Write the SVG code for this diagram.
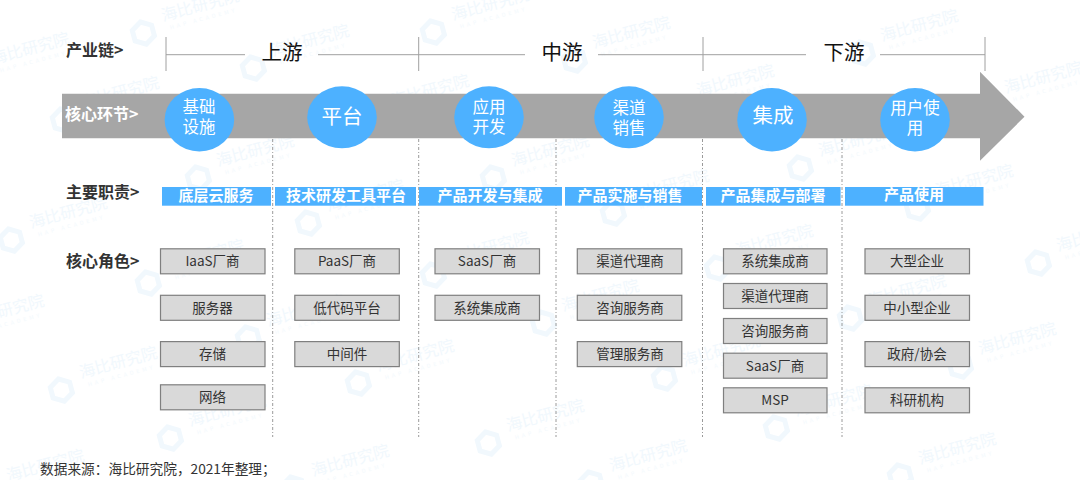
<svg xmlns="http://www.w3.org/2000/svg" width="1080" height="480" viewBox="0 0 1080 480">
<style>
text{font-family:"Noto Sans CJK SC","Noto Sans",sans-serif;text-anchor:middle;dominant-baseline:central;transform:translateY(-1px)}
.lbl{font-size:16px;font-weight:700;fill:#333;text-anchor:start}
.up{font-size:20.5px;fill:#111}
.circ{fill:#4db1ff}
.ct{font-size:16.5px;fill:#fff}
.cb{font-size:20.5px;fill:#fff}
.bar{fill:#4db1ff}
.bt{font-size:15px;font-weight:700;fill:#fff}
.box{fill:#d9d9d9;stroke:#7f7f7f;stroke-width:1.2}
.bx{font-size:13.5px;fill:#333}
.hl{stroke:#a0a0a0;stroke-width:1;fill:none}
.dash{stroke:#808080;stroke-width:.8;stroke-dasharray:3 2 1 2;fill:none}
.wt{font-size:16px;fill:#f1f8fd}
.ws{font-size:5.5px;letter-spacing:3px;fill:#f3f9fd}
.wi{fill:none;stroke:#f1f8fd;stroke-width:5}
</style>
<defs>
<g id="wm" transform="rotate(-15)">
<text class="wt" x="0" y="0" textLength="80">海比研究院</text>
<text class="ws" x="0" y="15">HAP ACADEMY</text>
<path class="wi" d="M-62 1l10 6v11l-10 6-10-6V7z"/>
</g>
</defs>
<rect width="1080" height="480" fill="#fff"/>
<g id="watermarks">
<use href="#wm" x="30" y="48"/><use href="#wm" x="200" y="5"/><use href="#wm" x="490" y="4"/><use href="#wm" x="310" y="40"/><use href="#wm" x="120" y="92"/><use href="#wm" x="430" y="90"/><use href="#wm" x="255" y="150"/><use href="#wm" x="550" y="150"/><use href="#wm" x="68" y="212"/><use href="#wm" x="365" y="195"/><use href="#wm" x="631" y="32"/><use href="#wm" x="919" y="25"/><use href="#wm" x="735" y="80"/><use href="#wm" x="1043" y="77"/><use href="#wm" x="857" y="140"/><use href="#wm" x="974" y="180"/><use href="#wm" x="670" y="185"/><use href="#wm" x="205" y="255"/><use href="#wm" x="5" y="310"/><use href="#wm" x="118" y="362"/><use href="#wm" x="227" y="410"/><use href="#wm" x="305" y="310"/><use href="#wm" x="415" y="355"/><use href="#wm" x="350" y="460"/><use href="#wm" x="45" y="465"/><use href="#wm" x="545" y="415"/><use href="#wm" x="490" y="247"/><use href="#wm" x="648" y="455"/><use href="#wm" x="957" y="448"/><use href="#wm" x="1017" y="338"/><use href="#wm" x="907" y="290"/><use href="#wm" x="600" y="295"/><use href="#wm" x="721" y="350"/><use href="#wm" x="833" y="400"/><use href="#wm" x="774" y="240"/><use href="#wm" x="1095" y="235"/>
</g>
<g id="connectors">
<path class="hl" d="M166 37V71M418.7 37V71M703 37V71M985 37V71M166 54.7H245M318 54.7H525M598 54.7H806M880 54.7H985"/>
<path class="dash" d="M272.7 139V437M418.7 139V437M556 139V437M702.5 139V437M842 139V437"/>
</g>
<g id="arrow"><path d="M62 93.7H980V71.7L1024.5 116.7L980 160.7V138.3H62z" fill="#a6a6a6"/></g>
<g id="row-labels">
<text class="lbl" x="66" y="50">产业链&gt;</text>
<text class="lbl" x="65" y="114" style="fill:#fff">核心环节&gt;</text>
<text class="lbl" x="66" y="192">主要职责&gt;</text>
<text class="lbl" x="66" y="261">核心角色&gt;</text>
</g>
<g id="stage-upstream"><text class="up" x="282" y="52">上游</text></g>
<g id="stage-midstream"><text class="up" x="562" y="52">中游</text></g>
<g id="stage-downstream"><text class="up" x="844" y="52">下游</text></g>
<g id="c1"><ellipse class="circ" cx="199.4" cy="119.7" rx="34.8" ry="31.7"/><text class="ct"><tspan x="199" y="107">基础</tspan><tspan x="199" y="127">设施</tspan></text></g>
<g id="c2"><ellipse class="circ" cx="342" cy="117.3" rx="34.8" ry="31"/><text class="cb" x="342" y="116">平台</text></g>
<g id="c3"><ellipse class="circ" cx="489" cy="117.3" rx="34.8" ry="31"/><text class="ct"><tspan x="489" y="107">应用</tspan><tspan x="489" y="127">开发</tspan></text></g>
<g id="c4"><ellipse class="circ" cx="629" cy="117.3" rx="34.8" ry="31"/><text class="ct"><tspan x="629" y="108">渠道</tspan><tspan x="629" y="128">销售</tspan></text></g>
<g id="c5"><ellipse class="circ" cx="772" cy="119.7" rx="34.8" ry="31.7"/><text class="cb" x="773" y="115">集成</text></g>
<g id="c6"><ellipse class="circ" cx="915" cy="119.7" rx="34.8" ry="31.7"/><text class="ct"><tspan x="915" y="108">用户使</tspan><tspan x="915" y="128">用</tspan></text></g>
<g id="b1"><rect class="bar" x="162" y="187" width="109" height="18.7"/><text class="bt" x="216" y="195">底层云服务</text></g>
<g id="b2"><rect class="bar" x="275" y="187" width="141" height="18.7"/><text class="bt" x="346" y="195">技术研发工具平台</text></g>
<g id="b3"><rect class="bar" x="419" y="187" width="143" height="18.7"/><text class="bt" x="490" y="195">产品开发与集成</text></g>
<g id="b4"><rect class="bar" x="565" y="187" width="137" height="18.7"/><text class="bt" x="630" y="195">产品实施与销售</text></g>
<g id="b5"><rect class="bar" x="706" y="187" width="134.6" height="18.7"/><text class="bt" x="773" y="195">产品集成与部署</text></g>
<g id="b6"><rect class="bar" x="845" y="187" width="138.5" height="18.7"/><text class="bt" x="914" y="194">产品使用</text></g>
<g id="n11"><rect class="box" x="160.5" y="248.8" width="104.5" height="25"/><text class="bx" x="212.5" y="261">IaaS厂商</text></g>
<g id="n12"><rect class="box" x="160.5" y="295.3" width="104.5" height="25"/><text class="bx" x="212.5" y="308">服务器</text></g>
<g id="n13"><rect class="box" x="160.5" y="341.6" width="104.5" height="25"/><text class="bx" x="212.5" y="354">存储</text></g>
<g id="n14"><rect class="box" x="160.5" y="384.8" width="104.5" height="25"/><text class="bx" x="212.5" y="397">网络</text></g>
<g id="n21"><rect class="box" x="294.8" y="248.8" width="104.5" height="25"/><text class="bx" x="347" y="261">PaaS厂商</text></g>
<g id="n22"><rect class="box" x="294.8" y="295.3" width="104.5" height="25"/><text class="bx" x="347" y="308">低代码平台</text></g>
<g id="n23"><rect class="box" x="294.8" y="341.6" width="104.5" height="25"/><text class="bx" x="347" y="354">中间件</text></g>
<g id="n31"><rect class="box" x="435" y="248.8" width="104.5" height="25"/><text class="bx" x="487" y="261">SaaS厂商</text></g>
<g id="n32"><rect class="box" x="435" y="295.3" width="104.5" height="25"/><text class="bx" x="487" y="308">系统集成商</text></g>
<g id="n41"><rect class="box" x="577.3" y="248.8" width="104.5" height="25"/><text class="bx" x="630" y="261">渠道代理商</text></g>
<g id="n42"><rect class="box" x="577.3" y="295.3" width="104.5" height="25"/><text class="bx" x="630" y="308">咨询服务商</text></g>
<g id="n43"><rect class="box" x="577.3" y="341.6" width="104.5" height="25"/><text class="bx" x="630" y="354">管理服务商</text></g>
<g id="n51"><rect class="box" x="723.5" y="248.8" width="103.5" height="25"/><text class="bx" x="775" y="261">系统集成商</text></g>
<g id="n52"><rect class="box" x="723.5" y="283.5" width="103.5" height="25"/><text class="bx" x="775" y="296">渠道代理商</text></g>
<g id="n53"><rect class="box" x="723.5" y="318.5" width="103.5" height="25"/><text class="bx" x="775" y="331">咨询服务商</text></g>
<g id="n54"><rect class="box" x="723.5" y="353.2" width="103.5" height="25"/><text class="bx" x="775" y="366">SaaS厂商</text></g>
<g id="n55"><rect class="box" x="723.5" y="387.8" width="103.5" height="25"/><text class="bx" x="775" y="400">MSP</text></g>
<g id="n61"><rect class="box" x="865" y="248.8" width="104.5" height="25"/><text class="bx" x="917" y="261">大型企业</text></g>
<g id="n62"><rect class="box" x="865" y="295.3" width="104.5" height="25"/><text class="bx" x="917" y="308">中小型企业</text></g>
<g id="n63"><rect class="box" x="865" y="341.6" width="104.5" height="25"/><text class="bx" x="917" y="354">政府/协会</text></g>
<g id="n64"><rect class="box" x="865" y="387.8" width="104.5" height="25"/><text class="bx" x="917" y="400">科研机构</text></g>
<g id="source"><text x="40" y="469" style="font-size:13.7px;fill:#333;text-anchor:start">数据来源：海比研究院，2021年整理；</text></g>
</svg>
